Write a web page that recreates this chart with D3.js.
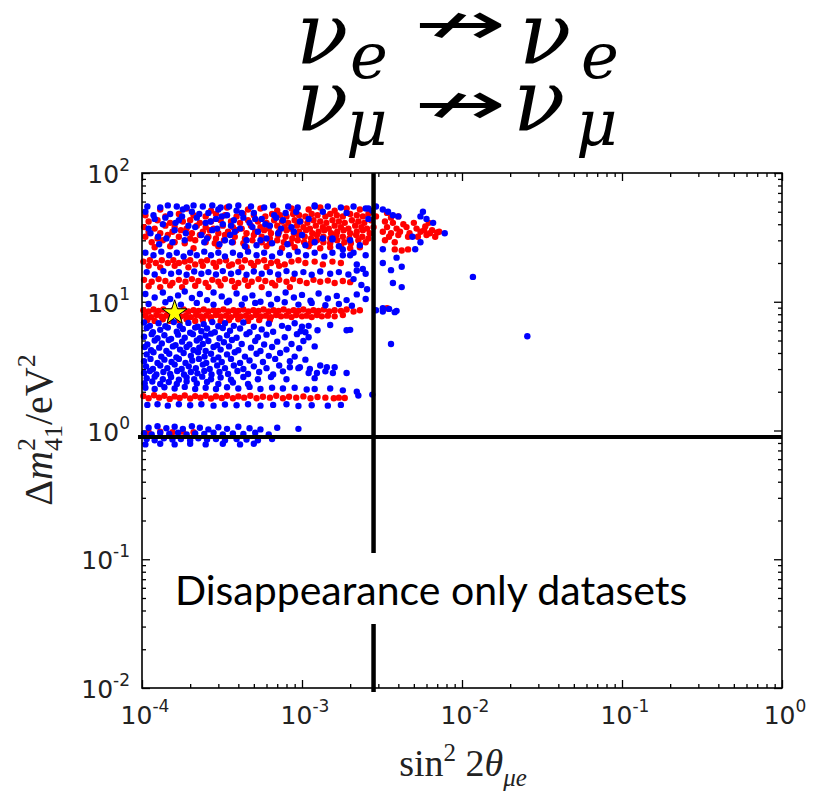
<!DOCTYPE html>
<html>
<head>
<meta charset="utf-8">
<script src="https://cdn.jsdelivr.net/npm/d3@7"></script>
<style>
  body { margin: 0; background: #fff; }
  svg { display: block; }
</style>
</head>
<body>
<svg id="chart" width="819" height="793"></svg>
<script>
// ---- axis setup ----
const xDomain = [1e-4, 1];
const yDomain = [1e-2, 1e2];
const xTickExps = ["-4", "-3", "-2", "-1", "0"];
const yTickExps = ["-2", "-1", "0", "1", "2"];

// ---- limits drawn as black lines ----
const sin2Limit = 2.8e-3;
const dm2Limit = 0.89;

// ---- best fit point (star) ----
const bestFit = [1.6e-4, 8.2];

// ---- red points [sin^2 2theta, dm^2] ----
const redPoints = [
  // top cluster
  [1.3e-4,52],[1.9e-4,53],[2.7e-4,51],[3.4e-4,54],[4.6e-4,52],[5.5e-4,53],[7.0e-4,51],[8.6e-4,53],[1.1e-3,52],[1.3e-3,54],[1.6e-3,51],[1.9e-3,53],[2.3e-3,52],[2.7e-3,50],[3.4e-3,49],
  [1.05e-4,47],[1.4e-4,46],[1.7e-4,48],[2.1e-4,47],[2.5e-4,46],[2.9e-4,48],[3.3e-4,47],[3.9e-4,46],[4.3e-4,48],[5.0e-4,47],[5.9e-4,46],[6.5e-4,48],[7.3e-4,47],[8.0e-4,46],[8.8e-4,48],[9.6e-4,47],[1.05e-3,46],[1.15e-3,48],[1.25e-3,47],[1.4e-3,46],[1.5e-3,48],[1.65e-3,47],[1.8e-3,46],[2.0e-3,48],[2.2e-3,47],[2.4e-3,46],[2.6e-3,48],[2.9e-3,46],[3.6e-3,45],[4.0e-3,46],
  [1.1e-4,42],[1.25e-4,43],[1.5e-4,41],[1.8e-4,42],[2.0e-4,43],[2.3e-4,41],[2.7e-4,42],[3.1e-4,43],[3.6e-4,42],[4.1e-4,41],[4.6e-4,43],[5.3e-4,42],[6.0e-4,41],[6.7e-4,43],[7.5e-4,42],[8.2e-4,41],[9.0e-4,43],[9.8e-4,42],[1.08e-3,41],[1.18e-3,43],[1.3e-3,42],[1.42e-3,41],[1.55e-3,43],[1.7e-3,42],[1.85e-3,41],[2.05e-3,43],[2.25e-3,42],[2.45e-3,41],[2.7e-3,43],[3.3e-3,42],[3.7e-3,41],[4.3e-3,40],[5.0e-3,41],[5.9e-3,38.5],[6.2e-3,41],
  [1.03e-4,38],[1.2e-4,37],[1.4e-4,39],[1.6e-4,38],[1.9e-4,37],[2.2e-4,39],[2.5e-4,38],[2.8e-4,37],[3.2e-4,39],[3.7e-4,38],[4.2e-4,37],[4.8e-4,39],[5.5e-4,38],[6.2e-4,37],[7.0e-4,39],[7.8e-4,38],[8.5e-4,37],[9.3e-4,39],[1.02e-3,38],[1.12e-3,37],[1.22e-3,39],[1.35e-3,38],[1.47e-3,37],[1.6e-3,39],[1.75e-3,38],[1.95e-3,37],[2.15e-3,39],[2.35e-3,38],[2.55e-3,37],[2.8e-3,38],[3.4e-3,38],[3.9e-3,37],[4.5e-3,38],[5.2e-3,37],[5.8e-3,36],
  [1.1e-4,35],[1.3e-4,34],[1.55e-4,35],[1.75e-4,36],[2.05e-4,34],[2.4e-4,35],[2.65e-4,36],[3.0e-4,34],[3.45e-4,35],[3.9e-4,36],[4.5e-4,34],[5.1e-4,35],[5.8e-4,36],[6.4e-4,34],[7.2e-4,35],[8.0e-4,36],[8.9e-4,34],[9.6e-4,35],[1.06e-3,36],[1.16e-3,34],[1.27e-3,35],[1.38e-3,36],[1.52e-3,34],[1.66e-3,35],[1.82e-3,36],[2.0e-3,34],[2.2e-3,35],[2.4e-3,36],[2.65e-3,34],[3.2e-3,35],[3.6e-3,34],[4.1e-3,35],[4.7e-3,34],[5.5e-3,35],[6.3e-3,34],[6.5e-3,36],[7.0e-3,34.5],[7.2e-3,35],
  [1.05e-4,32],[1.25e-4,31],[1.45e-4,33],[1.7e-4,32],[2.0e-4,31],[2.3e-4,33],[2.6e-4,32],[2.9e-4,31],[3.3e-4,33],[3.8e-4,32],[4.4e-4,31],[5.0e-4,33],[5.6e-4,32],[6.3e-4,31],[7.1e-4,33],[7.9e-4,32],[8.7e-4,31],[9.5e-4,33],[1.04e-3,32],[1.14e-3,31],[1.24e-3,33],[1.36e-3,32],[1.5e-3,31],[1.64e-3,33],[1.8e-3,32],[1.98e-3,31],[2.18e-3,33],[2.38e-3,32],[2.6e-3,31],[3.5e-3,32],[4.0e-3,33],[4.6e-3,32],[5.3e-3,32],[6.0e-3,33],[6.8e-3,32],
  [1.15e-4,29],[1.35e-4,30],[1.6e-4,29],[1.85e-4,28.5],[2.15e-4,30],[2.5e-4,29],[2.85e-4,28.5],[3.25e-4,30],[3.7e-4,29],[4.3e-4,28.5],[4.9e-4,30],[5.6e-4,29],[6.3e-4,28.5],[7.0e-4,30],[7.7e-4,29],[8.5e-4,28.5],[9.4e-4,30],[1.03e-3,29],[1.13e-3,28.5],[1.24e-3,30],[1.36e-3,29],[1.5e-3,28.5],[1.66e-3,30],[1.84e-3,29],[2.02e-3,28.5],[2.25e-3,30],[2.5e-3,29],[3.3e-3,30],[3.8e-3,29],
  [1.2e-4,26.5],[1.5e-4,27],[2.1e-4,26],[3.0e-4,27],[4.5e-4,26.5],[6.0e-4,27],[7.5e-4,26],[9.0e-4,26.5],[1.1e-3,27],[1.3e-3,26],[1.5e-3,26.5],[1.75e-3,27],[2.0e-3,26],[2.3e-3,26.5],[3.8e-3,25.5],[4.2e-3,25],[4.6e-3,25.5],
  // ~20 eV^2
  [1.02e-4,20.5],[1.12e-4,21],[1.22e-4,20],[1.33e-4,21],[1.45e-4,20],[1.57e-4,21],[1.7e-4,20],[1.85e-4,20.5],[2.0e-4,21],[2.15e-4,19.5],[2.35e-4,20.5],[2.55e-4,21],[2.8e-4,20],[3.05e-4,20.5],[3.35e-4,21],[3.65e-4,19.5],[4.0e-4,20.5],[4.4e-4,21],[4.8e-4,20],[5.3e-4,20.5],[5.8e-4,21],[6.4e-4,20],[7.0e-4,20.5],[7.8e-4,19.5],[8.6e-4,20.5],[9.5e-4,21],[1.05e-3,20],[1.2e-3,20.5],[1.35e-3,19.5],[1.55e-3,20.5],[1.75e-3,20],
  [1.1e-4,19],[1.3e-4,18.5],[1.6e-4,19],[1.95e-4,18.5],[2.4e-4,19],[2.9e-4,18.7],[3.5e-4,19],[4.2e-4,18.5],[5.0e-4,19],[6.0e-4,18.6],[7.2e-4,19],
  // ~14 eV^2
  [1.03e-4,14.8],[1.15e-4,14.3],[1.27e-4,15],[1.4e-4,14.5],[1.55e-4,14],[1.7e-4,14.8],[1.87e-4,14.3],[2.05e-4,15],[2.25e-4,14.5],[2.5e-4,14],[2.75e-4,14.8],[3.0e-4,14.3],[3.3e-4,15],[3.65e-4,14.5],[4.0e-4,14],[4.4e-4,14.8],[4.85e-4,14.3],[5.35e-4,15],[5.9e-4,14.5],[6.5e-4,14],[7.2e-4,14.8],[8.0e-4,14.3],[8.8e-4,15],[9.7e-4,14.5],[1.07e-3,14],[1.18e-3,14.8],[1.3e-3,14.3],[1.45e-3,14.6],[1.6e-3,14],[1.8e-3,14.5],[2.0e-3,14.2],
  [1.1e-4,13.2],[1.3e-4,13],[1.5e-4,13.4],[1.78e-4,13],[2.15e-4,13.3],[2.6e-4,13],[3.1e-4,13.4],[3.8e-4,13],[4.6e-4,13.3],[5.6e-4,13],[6.8e-4,13.4],[8.4e-4,13],
  // ~8 eV^2
  [1.02e-4,8.6],[1.1e-4,8.4],[1.18e-4,8.7],[1.27e-4,8.5],[1.36e-4,8.7],[1.46e-4,8.4],[1.57e-4,8.6],[1.69e-4,8.5],[1.82e-4,8.7],[1.95e-4,8.4],[2.1e-4,8.6],[2.26e-4,8.5],[2.43e-4,8.7],[2.6e-4,8.4],[2.8e-4,8.6],[3.0e-4,8.5],[3.23e-4,8.7],[3.47e-4,8.4],[3.73e-4,8.6],[4.0e-4,8.5],[4.3e-4,8.7],[4.62e-4,8.4],[4.97e-4,8.6],[5.35e-4,8.5],[5.75e-4,8.7],[6.18e-4,8.4],[6.64e-4,8.6],[7.14e-4,8.5],[7.68e-4,8.7],[8.25e-4,8.4],[8.87e-4,8.6],[9.5e-4,8.5],[1.02e-3,8.7],[1.1e-3,8.4],[1.18e-3,8.6],[1.27e-3,8.5],[1.37e-3,8.7],[1.48e-3,8.4],[1.6e-3,8.6],[1.75e-3,8.5],[1.9e-3,8.7],[2.1e-3,8.4],[2.3e-3,8.6],[3.4e-3,8.9],
  [1.05e-4,7.8],[1.14e-4,7.6],[1.23e-4,7.9],[1.32e-4,7.7],[1.42e-4,7.8],[1.52e-4,7.6],[1.63e-4,7.9],[1.75e-4,7.7],[1.88e-4,7.8],[2.02e-4,7.6],[2.18e-4,7.9],[2.34e-4,7.7],[2.52e-4,7.8],[2.7e-4,7.6],[2.9e-4,7.9],[3.12e-4,7.7],[3.35e-4,7.8],[3.6e-4,7.6],[3.87e-4,7.9],[4.15e-4,7.7],[4.46e-4,7.8],[4.8e-4,7.6],[5.15e-4,7.9],[5.55e-4,7.7],[5.95e-4,7.8],[6.4e-4,7.6],[6.9e-4,7.9],[7.4e-4,7.7],[8.0e-4,7.8],[8.6e-4,7.6],[9.2e-4,7.9],[1.0e-3,7.7],[1.07e-3,7.8],[1.15e-3,7.6],[1.24e-3,7.9],[1.33e-3,7.7],[1.45e-3,7.8],[1.6e-3,7.7],[1.8e-3,7.9],
  [1.08e-4,7.2],[1.2e-4,7.1],[1.35e-4,7.3],[1.5e-4,7.1],[1.7e-4,7.2],[1.9e-4,7.3],[2.15e-4,7.1],[2.4e-4,7.2],[2.7e-4,7.3],[3.1e-4,7.1],[3.5e-4,7.2],[4.0e-4,7.3],[4.6e-4,7.1],[5.4e-4,7.2],[6.3e-4,7.2],
  // ~1.8 eV^2
  [1.02e-4,1.85],[1.1e-4,1.78],[1.19e-4,1.88],[1.28e-4,1.8],[1.38e-4,1.86],[1.49e-4,1.76],[1.6e-4,1.84],[1.72e-4,1.79],[1.85e-4,1.87],[2.0e-4,1.77],[2.15e-4,1.85],[2.32e-4,1.8],[2.5e-4,1.86],[2.7e-4,1.77],[2.9e-4,1.84],[3.15e-4,1.79],[3.4e-4,1.86],[3.7e-4,1.78],[4.0e-4,1.84],[4.35e-4,1.8],[4.75e-4,1.86],[5.2e-4,1.78],[5.7e-4,1.83],[6.3e-4,1.8],[6.9e-4,1.86],[7.6e-4,1.78],[8.3e-4,1.83],[9.2e-4,1.8],[1.02e-3,1.84],[1.13e-3,1.78],[1.25e-3,1.82],[1.4e-3,1.8],[1.58e-3,1.78],[1.7e-3,1.8],[1.85e-3,1.79],
  // ~1 eV^2
  [1.1e-4,0.97],[1.3e-4,0.98],[1.55e-4,0.97],[1.8e-4,0.98],[2.1e-4,0.97]
];

// ---- blue points [sin^2 2theta, dm^2] ----
const bluePoints = [
  // top cluster
  [1.08e-4,55],[1.3e-4,54],[1.45e-4,56],[1.65e-4,55],[1.9e-4,54],[2.1e-4,56],[2.4e-4,55],[2.75e-4,56],[3.1e-4,54],[3.5e-4,55],[4.0e-4,56],[4.8e-4,55],[5.8e-4,54],[6.6e-4,56],[8.2e-4,55],[9.4e-4,54],[1.2e-3,56],[1.45e-3,55],[1.75e-3,54],[2.1e-3,55],[2.5e-3,53],[2.9e-3,55],[3.2e-3,52],[3.45e-3,50],
  [1.05e-4,50],[1.2e-4,44],[1.35e-4,40],[1.5e-4,48],[1.6e-4,36],[1.7e-4,43],[1.85e-4,30],[1.95e-4,39],[2.05e-4,50],[2.2e-4,45],[2.35e-4,33],[2.5e-4,41],[2.6e-4,49],[2.75e-4,36],[2.9e-4,44],[3.05e-4,28],[3.2e-4,40],[3.4e-4,47],[3.55e-4,33],[3.75e-4,43],[3.9e-4,51],[4.1e-4,37],[4.3e-4,45],[4.5e-4,30],[4.7e-4,41],[5.0e-4,49],[5.3e-4,35],[5.6e-4,44],[6.0e-4,31],[6.3e-4,39],[6.7e-4,47],[7.1e-4,34],[7.6e-4,43],[8.1e-4,28],[8.6e-4,38],[9.2e-4,50],[1.0e-3,33],[1.1e-3,44],[1.2e-3,29],[1.35e-3,50],[1.55e-3,31],[1.7e-3,27],
  [1.13e-4,34],[1.28e-4,28],[1.42e-4,31],[1.78e-4,46],[2.45e-4,29],[3.0e-4,52],[3.65e-4,29],[5.2e-4,27.5],[2.0e-3,30],[2.3e-3,27.5],[2.6e-3,44],[1.9e-3,49],
  [1.1e-4,37],[1.18e-4,47],[1.26e-4,32],[1.4e-4,45],[1.55e-4,29],[1.62e-4,41],[1.8e-4,52],[1.88e-4,34],[2.15e-4,38],[2.28e-4,48],[2.55e-4,31],[2.68e-4,42],[2.95e-4,37],[3.15e-4,46],[3.3e-4,30],[3.6e-4,39],[3.8e-4,35],[4.2e-4,49],[4.4e-4,27],[4.9e-4,38],[5.1e-4,44],[5.5e-4,30],[5.9e-4,40],[6.5e-4,28.5],[6.9e-4,45],[7.4e-4,37],[7.9e-4,49],[8.9e-4,35],[9.7e-4,42],[1.05e-3,27.5],
  [1.35e-3,31],[1.55e-3,30.5],[2.6e-3,53],[2.75e-3,51],[1.2e-3,55],
  // right edge of top cluster
  [3.7e-3,47],[4.0e-3,46],[5.7e-3,50],[5.5e-3,46],[6.0e-3,44],[6.6e-3,41],[7.8e-3,34],[4.9e-3,32],[5.5e-3,29],[5.1e-3,25.6],[3.2e-3,25.6],
  // ~23 eV^2
  [1.05e-4,24],[1.18e-4,23],[1.32e-4,24.5],[1.48e-4,23],[1.65e-4,24],[1.82e-4,22.5],[2.0e-4,24],[2.2e-4,23],[2.45e-4,24.5],[2.7e-4,23],[3.0e-4,24],[3.3e-4,22.5],[3.7e-4,24],[4.1e-4,23],[4.6e-4,24.5],[5.2e-4,23],[5.8e-4,24],[6.5e-4,22.5],[7.3e-4,24],[8.3e-4,23],[9.4e-4,24.5],[1.06e-3,23],[1.2e-3,24],[1.38e-3,22.5],[1.55e-3,24],[1.8e-3,23],[2.1e-3,24],[2.5e-3,23],
  [1.8e-3,25.5],[2.0e-3,23],[2.2e-3,19.5],[2.4e-3,18],[3.9e-3,22],[4.2e-3,18.7],[3.2e-3,20],[3.6e-3,17.6],
  // ~17 eV^2
  [1.07e-4,17],[1.2e-4,16.3],[1.36e-4,17.3],[1.52e-4,16.5],[1.7e-4,17],[1.9e-4,16.2],[2.12e-4,17.2],[2.35e-4,16.5],[2.6e-4,17],[2.9e-4,16.3],[3.2e-4,17.3],[3.6e-4,16.5],[4.0e-4,17],[4.5e-4,16.2],[5.0e-4,17.2],[5.6e-4,16.5],[6.3e-4,17],[7.1e-4,16.3],[8.0e-4,17.3],[9.0e-4,16.5],[1.02e-3,17],[1.15e-3,16.2],[1.3e-3,17.2],[1.5e-3,16.5],[1.7e-3,17],[1.95e-3,16.3],[2.2e-3,17.5],[2.5e-3,16.5],
  [2.1e-3,15],[2.35e-3,13.5],[2.55e-3,12.5],[3.7e-3,14],[4.2e-3,13],
  // ~11 eV^2
  [1.05e-4,11.5],[1.2e-4,10.8],[1.35e-4,11.8],[1.5e-4,10.5],[1.68e-4,11.2],[1.85e-4,12],[2.05e-4,10.7],[2.3e-4,11.5],[2.55e-4,10.3],[2.8e-4,11.8],[3.15e-4,11],[3.5e-4,10.2],[3.9e-4,11.6],[4.4e-4,10.6],[4.9e-4,11.2],[5.5e-4,10],[6.2e-4,11.5],[7.0e-4,10.5],[7.9e-4,11.8],[8.9e-4,10.8],[1.0e-3,11.3],[1.13e-3,10.2],[1.27e-3,11.6],[1.45e-3,10.6],[1.65e-3,11.1],[1.9e-3,10.3],[2.2e-3,11.4],[2.5e-3,10.5],
  [1.1e-4,9.6],[1.4e-4,9.9],[1.75e-4,9.5],[2.2e-4,9.8],[2.8e-4,9.5],[3.4e-4,9.9],[4.2e-4,9.5],[5.1e-4,9.8],[6.4e-4,9.5],[7.8e-4,9.9],[9.5e-4,9.5],[1.15e-3,9.8],[1.4e-3,9.4],[1.7e-3,9.6],[2.05e-3,9.3],
  [2.9e-3,8.6],[3.2e-3,8.4],[3.5e-3,8.8],[3.9e-3,8.5],
  // cloud between 2 and 7 eV^2
  [1.03e-4,6.9],[1.12e-4,6.5],[1.27e-4,6.8],[1.4e-4,6.45],[1.58e-4,6.95],[1.72e-4,6.5],[1.95e-4,6.85],[2.23e-4,6.4],[2.43e-4,6.7],[2.75e-4,6.95],[3.0e-4,6.45],[3.3e-4,6.8],[3.75e-4,6.5],[4.3e-4,6.9],[5.0e-4,6.4],[6.2e-4,6.75],[7.5e-4,6.5],[9.0e-4,6.8],[1.1e-3,6.5],
  [1.07e-4,6.25],[1.17e-4,5.8],[1.3e-4,6.05],[1.45e-4,6.3],[1.65e-4,5.85],[1.8e-4,6.15],[2.0e-4,5.75],[2.15e-4,6.3],[2.35e-4,5.9],[2.55e-4,6.2],[2.85e-4,5.8],[3.2e-4,6.25],[3.55e-4,5.95],[4.1e-4,6.2],[4.7e-4,5.8],[5.6e-4,6.1],[6.6e-4,5.85],[8.2e-4,6.25],[9.8e-4,5.9],[1.25e-3,6.0],
  [1.03e-4,5.35],[1.15e-4,5.6],[1.25e-4,5.2],[1.38e-4,5.5],[1.52e-4,5.15],[1.68e-4,5.55],[1.85e-4,5.25],[2.08e-4,5.6],[2.3e-4,5.2],[2.5e-4,5.45],[2.7e-4,5.65],[3.05e-4,5.2],[3.4e-4,5.5],[3.9e-4,5.25],[4.5e-4,5.6],[5.3e-4,5.3],[6.0e-4,5.55],[7.8e-4,5.3],[9.3e-4,5.6],
  [1.08e-4,4.65],[1.2e-4,5.0],[1.33e-4,4.75],[1.47e-4,5.05],[1.62e-4,4.6],[1.78e-4,4.9],[1.98e-4,4.65],[2.2e-4,5.0],[2.4e-4,4.7],[2.6e-4,4.95],[2.95e-4,4.6],[3.25e-4,4.85],[3.65e-4,5.05],[4.2e-4,4.7],[5.1e-4,4.95],[5.8e-4,4.65],[7.0e-4,4.9],[8.6e-4,4.7],[1.02e-3,4.95],
  [1.04e-4,4.45],[1.14e-4,4.2],[1.28e-4,4.4],[1.42e-4,4.15],[1.56e-4,4.5],[1.73e-4,4.25],[1.9e-4,4.45],[2.1e-4,4.2],[2.28e-4,4.4],[2.5e-4,4.15],[2.8e-4,4.45],[3.1e-4,4.25],[3.5e-4,4.5],[4.0e-4,4.2],[4.8e-4,4.4],[5.5e-4,4.15],[6.5e-4,4.45],[8.0e-4,4.25],[9.6e-4,4.35],[1.2e-3,4.5],
  [1.07e-4,3.9],[1.18e-4,4.05],[1.32e-4,3.75],[1.48e-4,3.95],[1.64e-4,3.7],[1.82e-4,4.0],[2.02e-4,3.8],[2.24e-4,4.05],[2.46e-4,3.75],[2.7e-4,3.95],[3.0e-4,3.7],[3.4e-4,3.9],[3.8e-4,4.05],[4.4e-4,3.75],[5.2e-4,3.95],[6.2e-4,3.8],[7.3e-4,4.0],[9.0e-4,3.75],
  [1.03e-4,3.45],[1.13e-4,3.6],[1.25e-4,3.35],[1.38e-4,3.55],[1.53e-4,3.4],[1.7e-4,3.6],[1.87e-4,3.35],[2.06e-4,3.5],[2.27e-4,3.6],[2.52e-4,3.35],[2.8e-4,3.55],[3.15e-4,3.4],[3.6e-4,3.6],[4.1e-4,3.35],[4.7e-4,3.5],[5.7e-4,3.4],[6.8e-4,3.6],[8.4e-4,3.45],[1.05e-3,3.55],
  [1.06e-4,3.15],[1.17e-4,3.0],[1.3e-4,3.2],[1.44e-4,3.05],[1.6e-4,3.25],[1.77e-4,3.0],[1.96e-4,3.15],[2.17e-4,3.05],[2.4e-4,3.25],[2.65e-4,3.0],[2.95e-4,3.2],[3.3e-4,3.05],[3.75e-4,3.2],[4.3e-4,3.0],[5.0e-4,3.15],[6.0e-4,3.05],[7.2e-4,3.2],[9.5e-4,3.05],[1.3e-3,3.2],[1.6e-3,3.1],
  [1.03e-4,2.8],[1.12e-4,2.9],[1.23e-4,2.72],[1.36e-4,2.85],[1.5e-4,2.75],[1.66e-4,2.9],[1.83e-4,2.72],[2.02e-4,2.85],[2.22e-4,2.78],[2.45e-4,2.9],[2.72e-4,2.72],[3.05e-4,2.85],[3.45e-4,2.75],[3.95e-4,2.9],[4.6e-4,2.75],[5.4e-4,2.85],[6.6e-4,2.72],[7.6e-4,2.88],[1.1e-3,2.8],[1.4e-3,2.88],[1.9e-3,2.8],
  [1.07e-4,2.55],[1.2e-4,2.62],[1.35e-4,2.5],[1.52e-4,2.6],[1.7e-4,2.48],[1.9e-4,2.58],[2.12e-4,2.5],[2.38e-4,2.62],[2.7e-4,2.5],[3.1e-4,2.58],[3.6e-4,2.48],[4.3e-4,2.6],[5.3e-4,2.5],[6.4e-4,2.6],[8.0e-4,2.5],[1.2e-3,2.55],
  [1.04e-4,2.33],[1.16e-4,2.4],[1.3e-4,2.3],[1.47e-4,2.38],[1.65e-4,2.3],[1.9e-4,2.4],[2.2e-4,2.32],[2.55e-4,2.38],[3.0e-4,2.3],[3.7e-4,2.36],[4.6e-4,2.3],
  [1.0e-3,6.4],[1.05e-3,5.8],[1.1e-3,5.3],[1.5e-3,6.6],[1.9e-3,6.0],[2.0e-3,6.05],[8.4e-4,3.1],[9.7e-4,3.1],[1.12e-3,3.0],[1.24e-3,2.8],[1.43e-3,3.1],[1.56e-3,2.8],
  // around 1.8 eV^2
  [1.05e-4,2.15],[1.2e-4,2.1],[1.38e-4,2.17],[1.6e-4,2.12],[1.85e-4,2.18],[2.15e-4,2.1],[2.5e-4,2.15],[2.9e-4,2.1],[3.4e-4,2.17],[4.0e-4,2.12],[4.7e-4,2.18],[5.5e-4,2.1],[6.5e-4,2.15],[7.6e-4,2.12],[9.0e-4,2.15],[1.07e-3,2.08],[1.2e-3,2.1],[1.5e-3,2.12],[1.8e-3,2.05],[2.2e-3,2.0],
  [1.08e-4,1.58],[1.25e-4,1.6],[1.45e-4,1.56],[1.7e-4,1.6],[2.0e-4,1.57],[2.35e-4,1.6],[2.8e-4,1.56],[3.3e-4,1.59],[3.9e-4,1.57],[4.6e-4,1.6],[5.5e-4,1.56],[6.6e-4,1.58],[8.0e-4,1.6],[9.5e-4,1.55],[1.15e-3,1.57],[1.45e-3,1.56],[1.75e-3,1.58],
  [2.25e-3,1.87],[2.75e-3,1.9],
  // ~1 eV^2
  [1.1e-4,1.05],[1.25e-4,1.08],[1.42e-4,1.04],[1.6e-4,1.07],[1.8e-4,1.03],[2.05e-4,1.08],[2.3e-4,1.05],[2.6e-4,1.02],[3.0e-4,1.06],[3.4e-4,1.03],[4.0e-4,1.07],[4.7e-4,1.04],[5.5e-4,1.02],[7.0e-4,1.05],[9.5e-4,1.03],
  [1.03e-4,0.95],[1.15e-4,0.93],[1.3e-4,0.96],[1.48e-4,0.94],[1.68e-4,0.96],[1.9e-4,0.93],[2.15e-4,0.95],[2.45e-4,0.94],[2.8e-4,0.96],[3.2e-4,0.93],[3.7e-4,0.95],[4.3e-4,0.94],[5.1e-4,0.96],[6.2e-4,0.93],
  [1.07e-4,0.86],[1.2e-4,0.84],[1.37e-4,0.87],[1.55e-4,0.85],[1.75e-4,0.86],[2.0e-4,0.84],[2.25e-4,0.87],[2.55e-4,0.85],[2.9e-4,0.86],[3.3e-4,0.84],[3.9e-4,0.86],[4.5e-4,0.85],[5.3e-4,0.84],[6.5e-4,0.86],
  [1.05e-4,0.78],[1.3e-4,0.79],[1.6e-4,0.78],[2.0e-4,0.79],[2.5e-4,0.78],[3.2e-4,0.79],[4.1e-4,0.78],[5.0e-4,0.79],
  // isolated points
  [3.2e-3,8.9],[3.8e-3,8.3],[3.6e-3,4.7],[1.17e-2,15.6],[2.56e-2,5.4]
];

// ---- drawing ----
const svg = d3.select("#chart");
const W = 819, H = 793;
const m = { left: 142, right: 37, top: 173, bottom: 105 };

const x = d3.scaleLog().domain(xDomain).range([m.left, W - m.right]);
const y = d3.scaleLog().domain(yDomain).range([H - m.bottom, m.top]);

const tickFont = "DejaVu Sans, Arial, sans-serif";
const serif = "Liberation Serif, Times New Roman, serif";

// major ticks at decades, minor ticks at 2..9
function decades(dom) {
  const out = [];
  for (let e = Math.round(Math.log10(dom[0])); e <= Math.round(Math.log10(dom[1])); e++) out.push(Math.pow(10, e));
  return out;
}
function minors(dom) {
  const out = [];
  for (let e = Math.round(Math.log10(dom[0])); e < Math.round(Math.log10(dom[1])); e++)
    for (let k = 2; k <= 9; k++) out.push(k * Math.pow(10, e));
  return out;
}
const xMajor = decades(xDomain), yMajor = decades(yDomain);
const xMinor = minors(xDomain), yMinor = minors(yDomain);

function drawAxis(axisFn, scale, translate, major, minor) {
  const g1 = svg.append("g").attr("transform", translate)
    .call(axisFn(scale).tickValues(major).tickSize(-8).tickFormat(""));
  const g2 = svg.append("g").attr("transform", translate)
    .call(axisFn(scale).tickValues(minor).tickSize(-4).tickFormat(""));
  [g1, g2].forEach(g => {
    g.select(".domain").remove();
    g.selectAll(".tick line").attr("stroke", "#000").attr("stroke-width", 1.3);
  });
}
const x0 = x.range()[0], x1 = x.range()[1];
const yb = y.range()[0], yt = y.range()[1];
drawAxis(d3.axisBottom, x, `translate(0,${yb})`, xMajor, xMinor);
drawAxis(d3.axisTop, x, `translate(0,${yt})`, xMajor, xMinor);
drawAxis(d3.axisLeft, y, `translate(${x0},0)`, yMajor, yMinor);
drawAxis(d3.axisRight, y, `translate(${x1},0)`, yMajor, yMinor);

// tick labels 10^n
const xl = svg.append("g");
xMajor.forEach((v, i) => {
  const t = xl.append("text").attr("x", x(v) + 3).attr("y", yb + 36)
    .attr("text-anchor", "middle").attr("font-family", tickFont).attr("font-size", 25).attr("fill", "#222");
  t.append("tspan").text("10");
  t.append("tspan").attr("dy", -12).attr("font-size", 17).text(xTickExps[i]);
});
const yl = svg.append("g");
yMajor.forEach((v, i) => {
  const t = yl.append("text").attr("x", x0 - 12).attr("y", y(v) + 10)
    .attr("text-anchor", "end").attr("font-family", tickFont).attr("font-size", 25).attr("fill", "#222");
  t.append("tspan").text("10");
  t.append("tspan").attr("dy", -12).attr("font-size", 17).text(yTickExps[i]);
});

// points
const R = 3.2;
const pts = svg.append("g");
pts.selectAll("circle.r").data(redPoints).join("circle").attr("class", "r")
  .attr("cx", d => x(d[0])).attr("cy", d => y(d[1])).attr("r", R).attr("fill", "#ff0000");
pts.selectAll("circle.b").data(bluePoints).join("circle").attr("class", "b")
  .attr("cx", d => x(d[0])).attr("cy", d => y(d[1])).attr("r", R).attr("fill", "#0000ff");

// star at best fit
svg.append("path")
  .attr("d", d3.symbol(d3.symbolStar, 190)())
  .attr("transform", `translate(${x(bestFit[0])},${y(bestFit[1])})`)
  .attr("fill", "#ffff00").attr("stroke", "#000").attr("stroke-width", 1);

// frame
svg.append("rect").attr("x", x0).attr("y", yt).attr("width", x1 - x0).attr("height", yb - yt)
  .attr("fill", "none").attr("stroke", "#000").attr("stroke-width", 1.6);

// limit lines
svg.append("line").attr("x1", x(sin2Limit)).attr("x2", x(sin2Limit)).attr("y1", yt).attr("y2", yb + 4)
  .attr("stroke", "#000").attr("stroke-width", 4.5);
svg.append("line").attr("x1", x0 - 4).attr("x2", x1).attr("y1", y(dm2Limit)).attr("y2", y(dm2Limit))
  .attr("stroke", "#000").attr("stroke-width", 4);

// text box
svg.append("rect").attr("x", 168).attr("y", 553).attr("width", 528).attr("height", 71).attr("fill", "#fff");
svg.append("text").attr("x", 175).attr("y", 605)
  .attr("font-family", "Lato, Open Sans, sans-serif").attr("font-size", 41).attr("fill", "#000")
  .text("Disappearance only datasets");

// axis titles
const xt = svg.append("text").attr("x", 463).attr("y", 776).attr("text-anchor", "middle")
  .attr("font-family", serif).attr("font-size", 38).attr("fill", "#222");
xt.append("tspan").text("sin");
xt.append("tspan").attr("dy", -15).attr("font-size", 25).text("2");
xt.append("tspan").attr("dy", 15).text(" 2");
xt.append("tspan").attr("font-style", "italic").text("θ");
xt.append("tspan").attr("dy", 10).attr("font-size", 25).attr("font-style", "italic").text("μe");

const yt2 = svg.append("text").attr("transform", "translate(52,430) rotate(-90)").attr("text-anchor", "middle")
  .attr("font-family", serif).attr("font-size", 40).attr("fill", "#222");
yt2.append("tspan").text("Δ");
yt2.append("tspan").attr("font-style", "italic").text("m");
yt2.append("tspan").attr("dy", -17).attr("font-size", 26).text("2");
yt2.append("tspan").attr("dx", -13).attr("dy", 27).attr("font-size", 26).text("41");
yt2.append("tspan").attr("dy", -10).text("/eV");
yt2.append("tspan").attr("dy", -17).attr("font-size", 26).text("2");

// title: nu_e -/-> nu_e ; nu_mu -/-> nu_mu
const title = svg.append("g").attr("fill", "#000");
const tf = "DejaVu Serif, serif";
function sym(tx, ty, s, fs, italic) {
  title.append("text").attr("x", tx).attr("y", ty).attr("font-family", tf)
    .attr("font-size", fs).attr("font-style", italic ? "italic" : "normal").text(s);
}
function arrow(tx, ty) {
  title.append("text").attr("transform", `translate(${tx},${ty}) scale(1.85,1)`)
    .attr("font-family", "DejaVu Sans").attr("font-size", 60).text("↛");
}
sym(296, 63, "ν", 86, true); sym(350, 78, "e", 64, true);
arrow(414, 44);
sym(519, 63, "ν", 86, true); sym(581, 78, "e", 64, true);
sym(296, 130, "ν", 86, true); sym(346, 145, "μ", 64, true);
arrow(414, 124);
sym(513, 130, "ν", 86, true); sym(576, 145, "μ", 64, true);
</script>
</body>
</html>
